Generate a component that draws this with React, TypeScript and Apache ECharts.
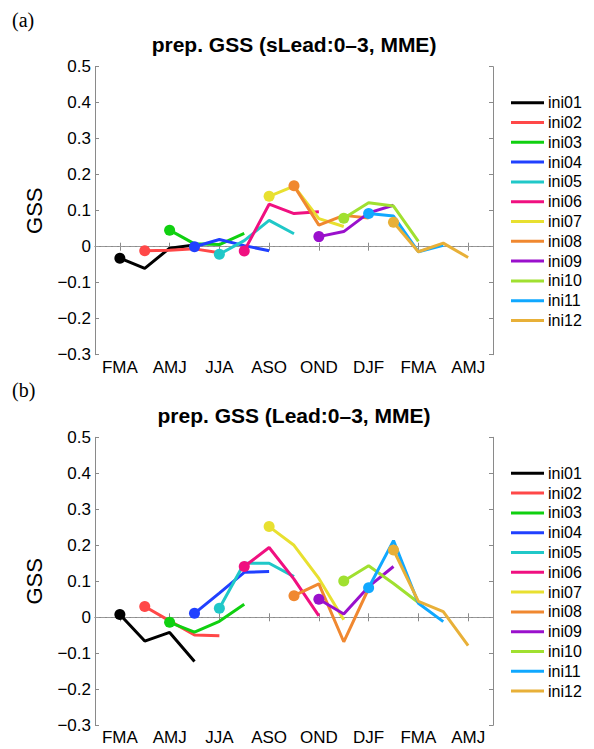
import React, { useEffect, useRef } from 'react';
import * as echarts from 'echarts';

// Season categories (index 0..16), labels shown at odd indices
const seasons = ['JFM', 'FMA', 'MAM', 'AMJ', 'MJJ', 'JJA', 'JAS', 'ASO', 'SON', 'OND', 'NDJ', 'DJF', 'JFM', 'FMA', 'MAM', 'AMJ', 'MJJ'];

const iniNames = ['ini01', 'ini02', 'ini03', 'ini04', 'ini05', 'ini06', 'ini07', 'ini08', 'ini09', 'ini10', 'ini11', 'ini12'];

const iniColors = ['#000000', '#ff4848', '#10d010', '#2040ff', '#20c8c8', '#f01080', '#e8e030', '#f08830', '#9a10cc', '#a0e030', '#10a8ff', '#e8b038'];

// Panel (a): prep. GSS (sLead:0-3, MME) — lead 0..3 for each initial month
const gssSLead = [
  [-0.032, -0.060, -0.004, 0.005],
  [-0.011, -0.010, -0.006, -0.017],
  [0.046, 0.008, 0.006, 0.037],
  [0.000, 0.020, 0.003, -0.011],
  [-0.021, 0.017, 0.073, 0.036],
  [-0.012, 0.118, 0.092, 0.097],
  [0.140, 0.168, 0.078, 0.056],
  [0.169, 0.060, 0.087, 0.080],
  [0.028, 0.042, 0.094, 0.115],
  [0.079, 0.122, 0.113, 0.015],
  [0.092, 0.085, -0.014, 0.004],
  [0.068, -0.014, 0.010, -0.030],
];

// Panel (b): prep. GSS (Lead:0-3, MME)
const gssLead = [
  [0.008, -0.066, -0.042, -0.123],
  [0.030, -0.010, -0.049, -0.051],
  [-0.014, -0.041, -0.011, 0.036],
  [0.011, 0.067, 0.125, 0.127],
  [0.025, 0.150, 0.150, 0.113],
  [0.141, 0.194, 0.106, 0.004],
  [0.252, 0.200, 0.108, -0.007],
  [0.060, 0.093, -0.068, 0.080],
  [0.050, 0.009, 0.085, 0.141],
  [0.101, 0.143, 0.094, 0.041],
  [0.082, 0.213, 0.039, -0.012],
  [0.187, 0.044, 0.016, -0.079],
];

const titles = ['prep. GSS (sLead:0\u20133, MME)', 'prep. GSS (Lead:0\u20133, MME)'];
const panelLabels = ['(a)', '(b)'];

const SANS = '"Liberation Sans", Arial, Helvetica, sans-serif';
const SERIF = '"Liberation Serif", "Times New Roman", serif';
const AXIS_COLOR = '#8a8a8a';

const GRID_LEFT = 95;
const GRID_WIDTH = 398;
const GRID_HEIGHT = 288;
const GRID_TOPS = [66.7, 437.3];

function fmtY(v: number) {
  if (Math.abs(v) < 1e-9) return '0';
  const s = Math.abs(v).toFixed(1);
  return v < 0 ? '\u2212' + s : s;
}

function buildSeries(values: number[][], g: number) {
  return values.map((vals, i) => {
    const start = i + 1;
    const data: (number | string)[] = seasons.map(() => '-');
    vals.forEach((v, j) => {
      data[start + j] = v;
    });
    const color = iniColors[i];
    const s: any = {
      type: 'line',
      name: iniNames[i],
      xAxisIndex: g * 2,
      yAxisIndex: g * 2,
      data,
      symbol: 'circle',
      showSymbol: true,
      showAllSymbol: true,
      symbolSize: (_v: any, p: any) => (p.dataIndex === start ? 11 : 0),
      lineStyle: { width: 3, color },
      itemStyle: { color },
      connectNulls: false,
      z: 3,
    };
    if (i === 0) {
      s.markLine = {
        silent: true,
        symbol: 'none',
        label: { show: false },
        lineStyle: { type: 'dashed', color: '#999', width: 1 },
        data: [{ yAxis: 0 }],
        z: 1,
      };
    }
    return s;
  });
}

export default function App() {
  const ref = useRef<HTMLDivElement>(null);

  useEffect(() => {
    if (!ref.current) return;
    const chart = echarts.init(ref.current, null, { renderer: 'svg' });

    const grids = GRID_TOPS.map((top) => ({
      left: GRID_LEFT,
      top,
      width: GRID_WIDTH,
      height: GRID_HEIGHT,
      containLabel: false,
    }));

    const xAxes: any[] = [];
    const yAxes: any[] = [];
    [0, 1].forEach((g) => {
      const tickInterval = (idx: number) => idx % 2 === 1;
      xAxes.push({
        type: 'category',
        gridIndex: g,
        data: seasons,
        boundaryGap: false,
        position: 'bottom',
        axisLine: { show: true, lineStyle: { color: AXIS_COLOR, width: 1 } },
        axisTick: { show: true, inside: true, length: 4, interval: tickInterval, lineStyle: { color: AXIS_COLOR } },
        axisLabel: { show: true, interval: tickInterval, color: '#000', fontSize: 17, fontFamily: SANS, margin: 4 },
        splitLine: { show: false },
      });
      xAxes.push({
        type: 'category',
        gridIndex: g,
        data: seasons,
        boundaryGap: false,
        position: 'top',
        axisLine: { show: true, lineStyle: { color: AXIS_COLOR, width: 1 } },
        axisTick: { show: true, inside: true, length: 4, interval: tickInterval, lineStyle: { color: AXIS_COLOR } },
        axisLabel: { show: false },
        splitLine: { show: false },
      });
      yAxes.push({
        type: 'value',
        gridIndex: g,
        min: -0.3,
        max: 0.5,
        interval: 0.1,
        position: 'left',
        name: 'GSS',
        nameLocation: 'middle',
        nameGap: 50,
        nameTextStyle: { fontSize: 22, color: '#000', fontFamily: SANS },
        axisLine: { show: true, lineStyle: { color: AXIS_COLOR, width: 1 } },
        axisTick: { show: true, inside: true, length: 4, lineStyle: { color: AXIS_COLOR } },
        axisLabel: { color: '#000', fontSize: 17, fontFamily: SANS, margin: 4, formatter: fmtY },
        splitLine: { show: false },
      });
      yAxes.push({
        type: 'value',
        gridIndex: g,
        min: -0.3,
        max: 0.5,
        interval: 0.1,
        position: 'right',
        axisLine: { show: true, lineStyle: { color: AXIS_COLOR, width: 1 } },
        axisTick: { show: true, inside: true, length: 4, lineStyle: { color: AXIS_COLOR } },
        axisLabel: { show: false },
        splitLine: { show: false },
      });
    });

    const legends = GRID_TOPS.map((top) => ({
      orient: 'vertical',
      left: 511,
      top: top + 28,
      padding: 0,
      icon: 'rect',
      itemWidth: 33,
      itemHeight: 3,
      itemGap: 3.8,
      selectedMode: false,
      textStyle: { fontSize: 16, lineHeight: 16, color: '#000', fontFamily: SANS, padding: [0, 0, 0, -1] },
      data: iniNames,
    }));

    const graphics: any[] = [];
    GRID_TOPS.forEach((top, g) => {
      graphics.push({
        type: 'text',
        x: GRID_LEFT + GRID_WIDTH / 2,
        y: top - 22,
        style: {
          text: titles[g],
          font: `bold 21px ${SANS}`,
          fill: '#000',
          textAlign: 'center',
          textVerticalAlign: 'middle',
        },
      });
      graphics.push({
        type: 'text',
        x: 12,
        y: top - 47,
        style: {
          text: panelLabels[g],
          font: `20px ${SERIF}`,
          fill: '#000',
          textAlign: 'left',
          textVerticalAlign: 'middle',
        },
      });
    });

    chart.setOption({
      animation: false,
      backgroundColor: '#fff',
      grid: grids,
      xAxis: xAxes,
      yAxis: yAxes,
      legend: legends,
      graphic: graphics,
      series: [...buildSeries(gssSLead, 0), ...buildSeries(gssLead, 1)],
    });

    return () => {
      chart.dispose();
    };
  }, []);

  return (
    <div
      ref={ref}
      style={{ position: 'absolute', left: 0, top: 0, width: 594, height: 749, background: '#fff' }}
    />
  );
}
